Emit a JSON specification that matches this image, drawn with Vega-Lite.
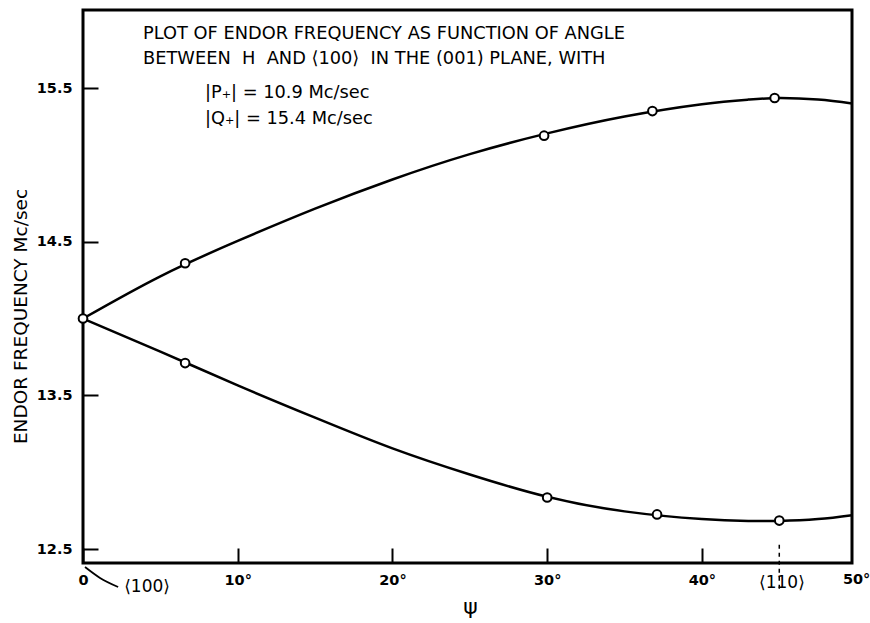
{
  "$schema": "https://vega.github.io/schema/vega-lite/v6.json",
  "width": 769,
  "height": 553,
  "autosize": {"type": "none"},
  "padding": {"left": 83, "top": 10, "right": 18, "bottom": 60},
  "background": "white",
  "config": {
    "view": {"stroke": "black", "strokeWidth": 3},
    "font": "DejaVu Sans"
  },
  "datasets": {
    "curves": [
      {"series": "upper", "psi": 0, "freq": 14.0},
      {"series": "upper", "psi": 5, "freq": 14.275},
      {"series": "upper", "psi": 10, "freq": 14.505},
      {"series": "upper", "psi": 15, "freq": 14.715},
      {"series": "upper", "psi": 20, "freq": 14.905},
      {"series": "upper", "psi": 25, "freq": 15.07},
      {"series": "upper", "psi": 30, "freq": 15.205},
      {"series": "upper", "psi": 35, "freq": 15.315},
      {"series": "upper", "psi": 40, "freq": 15.395},
      {"series": "upper", "psi": 43, "freq": 15.425},
      {"series": "upper", "psi": 45, "freq": 15.435},
      {"series": "upper", "psi": 47.5, "freq": 15.425},
      {"series": "upper", "psi": 49.7, "freq": 15.4},
      {"series": "lower", "psi": 0, "freq": 14.0},
      {"series": "lower", "psi": 5, "freq": 13.785},
      {"series": "lower", "psi": 10, "freq": 13.565},
      {"series": "lower", "psi": 15, "freq": 13.355},
      {"series": "lower", "psi": 20, "freq": 13.155},
      {"series": "lower", "psi": 25, "freq": 12.985},
      {"series": "lower", "psi": 30, "freq": 12.84},
      {"series": "lower", "psi": 35, "freq": 12.745},
      {"series": "lower", "psi": 40, "freq": 12.695},
      {"series": "lower", "psi": 43, "freq": 12.683},
      {"series": "lower", "psi": 45, "freq": 12.683},
      {"series": "lower", "psi": 47.5, "freq": 12.695},
      {"series": "lower", "psi": 49.7, "freq": 12.72}
    ],
    "points": [
      {"series": "both", "psi": 0, "freq": 14.0},
      {"series": "upper", "psi": 6.6, "freq": 14.36},
      {"series": "upper", "psi": 29.8, "freq": 15.19},
      {"series": "upper", "psi": 36.8, "freq": 15.35},
      {"series": "upper", "psi": 44.7, "freq": 15.435},
      {"series": "lower", "psi": 6.6, "freq": 13.71},
      {"series": "lower", "psi": 30.0, "freq": 12.835},
      {"series": "lower", "psi": 37.1, "freq": 12.725},
      {"series": "lower", "psi": 45.0, "freq": 12.685}
    ],
    "notesLeft": [
      {"psi": 3.88, "freq": 15.852, "text": "PLOT OF ENDOR FREQUENCY AS FUNCTION OF ANGLE"},
      {"psi": 3.88, "freq": 15.689, "text": "BETWEEN\u00a0\u00a0H\u00a0\u00a0AND ⟨100⟩\u00a0\u00a0IN THE (001)\u00a0PLANE,\u00a0WITH"},
      {"psi": 7.88, "freq": 15.468, "text": "|P₊| = 10.9 Mc/sec"},
      {"psi": 7.88, "freq": 15.298, "text": "|Q₊| = 15.4 Mc/sec"}
    ],
    "notesCenter": [
      {"psi": 4.14, "freq": 12.253, "text": "⟨100⟩"},
      {"psi": 45.17, "freq": 12.279, "text": "⟨110⟩"}
    ],
    "extraTick": [
      {"psi": 50, "freq": 12.299, "text": "50°"}
    ],
    "marker": [
      {"psi": 45, "freq": 12.527, "freq2": 12.234}
    ],
    "arrow": [
      {"psi": 0.13, "freq": 12.383},
      {"psi": 1.1, "freq": 12.312},
      {"psi": 2.27, "freq": 12.253}
    ]
  },
  "encoding": {
    "x": {
      "field": "psi",
      "type": "quantitative",
      "scale": {"domain": [0, 49.7], "nice": false, "zero": false},
      "axis": {
        "values": [0, 10, 20, 30, 40],
        "labelExpr": "datum.value == 0 ? '0' : datum.value + '°'",
        "domain": false,
        "grid": false,
        "tickSize": -15,
        "tickWidth": 2,
        "tickColor": "black",
        "labelPadding": 25,
        "labelFontSize": 14.5,
        "labelFontWeight": "bold",
        "labelColor": "black",
        "labelFlush": false,
        "title": "ψ",
        "titleFontSize": 22,
        "titleFontWeight": "normal",
        "titleColor": "black",
        "titleX": 387,
        "titleY": 43,
        "titleBaseline": "middle",
        "titleAlign": "center"
      }
    },
    "y": {
      "field": "freq",
      "type": "quantitative",
      "scale": {"domain": [12.409, 16.008], "nice": false, "zero": false},
      "axis": {
        "values": [12.5, 13.5, 14.5, 15.5],
        "format": ".1f",
        "domain": false,
        "grid": false,
        "tickSize": -15,
        "tickWidth": 2,
        "tickColor": "black",
        "labelPadding": 26,
        "labelFontSize": 14.5,
        "labelFontWeight": "bold",
        "labelColor": "black",
        "labelFlush": false,
        "title": "ENDOR FREQUENCY Mc/sec",
        "titleFontSize": 18.5,
        "titleFontWeight": "normal",
        "titleColor": "black",
        "titleAngle": -90,
        "titleX": -63,
        "titleY": 306,
        "titleBaseline": "middle",
        "titleAlign": "center"
      }
    }
  },
  "layer": [
    {
      "data": {"name": "curves"},
      "mark": {"type": "line", "interpolate": "natural", "color": "black", "strokeWidth": 2.5},
      "encoding": {"detail": {"field": "series"}}
    },
    {
      "data": {"name": "points"},
      "mark": {"type": "circle", "size": 75, "fill": "white", "stroke": "black", "strokeWidth": 2, "opacity": 1}
    },
    {
      "data": {"name": "marker"},
      "mark": {"type": "rule", "color": "black", "strokeWidth": 1.5, "strokeDash": [4, 4]},
      "encoding": {"y2": {"field": "freq2"}}
    },
    {
      "data": {"name": "arrow"},
      "mark": {"type": "line", "interpolate": "monotone", "color": "black", "strokeWidth": 1.8},
      "encoding": {}
    },
    {
      "data": {"name": "notesLeft"},
      "mark": {"type": "text", "align": "left", "baseline": "middle", "fontSize": 17.8, "color": "black"},
      "encoding": {"text": {"field": "text"}}
    },
    {
      "data": {"name": "notesCenter"},
      "mark": {"type": "text", "align": "center", "baseline": "middle", "fontSize": 17, "color": "black"},
      "encoding": {"text": {"field": "text"}}
    },
    {
      "data": {"name": "extraTick"},
      "mark": {"type": "text", "align": "center", "baseline": "middle", "fontSize": 14.5, "fontWeight": "bold", "color": "black"},
      "encoding": {"text": {"field": "text"}}
    }
  ]
}
